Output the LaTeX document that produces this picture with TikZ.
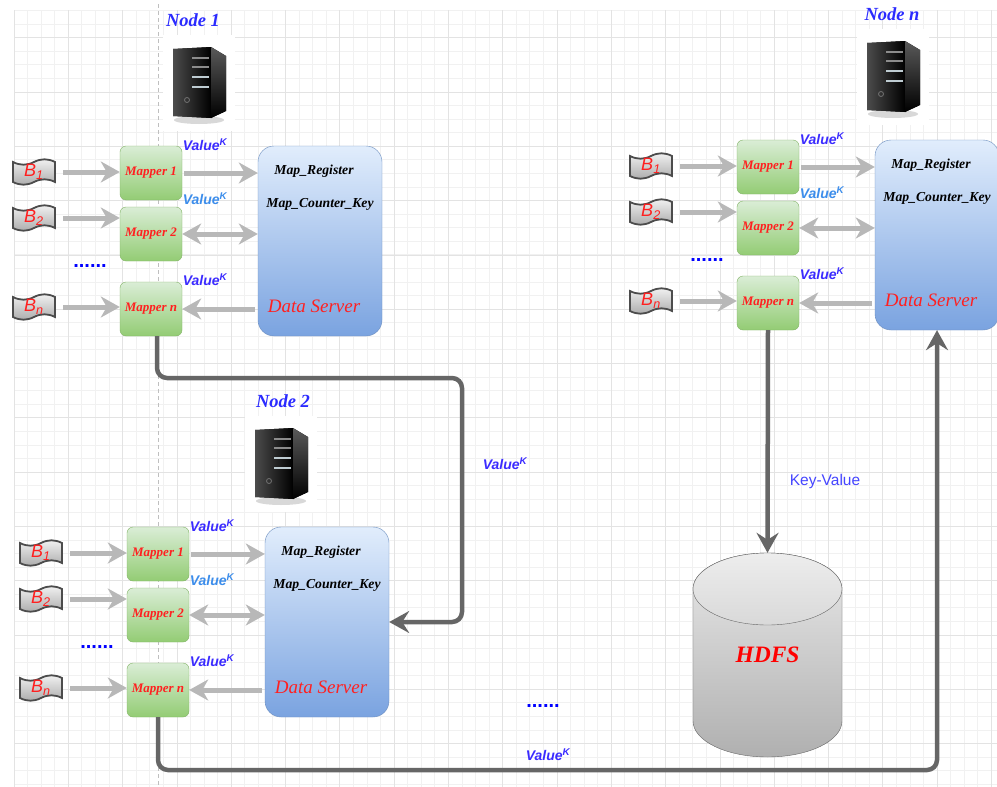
\documentclass[tikz,border=0pt]{standalone}
\usepackage{fontspec}
\setmainfont{Liberation Serif}
\setsansfont{Liberation Sans}
\usepackage{tikz}
\usetikzlibrary{arrows.meta}

\definecolor{gridminor}{HTML}{F1F1F1}
\definecolor{gridmajor}{HTML}{E3E3E3}
\definecolor{mapfill1}{HTML}{DAEDD6}
\definecolor{mapfill2}{HTML}{93CC74}
\definecolor{mapline}{HTML}{82B366}
\definecolor{srvfill1}{HTML}{E1EDFC}
\definecolor{srvfill2}{HTML}{7AA3E0}
\definecolor{srvline}{HTML}{6C8EBF}
\definecolor{feedgray}{HTML}{B8B8B8}
\definecolor{linkgray}{HTML}{666666}
\definecolor{lblblue}{HTML}{2B2BFF}
\definecolor{valblue}{HTML}{3B2BFF}
\definecolor{valsky}{HTML}{3C8DEB}
\definecolor{kvblue}{HTML}{4545FF}
\definecolor{txtred}{HTML}{FF2020}

\tikzset{
	gridline/.style={draw=gridminor, line width=0.8pt},
	gridbold/.style={draw=gridmajor, line width=0.8pt},
	mapper/.style={draw=mapline, rounded corners=6pt, top color=mapfill1, bottom color=mapfill2,
		minimum width=62pt, minimum height=54pt, inner sep=0pt, text=txtred,
		font=\fontsize{13}{15}\selectfont\bfseries\itshape},
	dataserver/.style={draw=srvline, rounded corners=16pt, top color=srvfill1, bottom color=srvfill2,
		minimum width=124pt, minimum height=190pt, inner sep=0pt},
	reglbl/.style={inner sep=0pt, font=\fontsize{13.7}{15}\selectfont\bfseries\itshape},
	srvlbl/.style={inner sep=0pt, text=txtred, font=\fontsize{19}{21}\selectfont\itshape},
	tape/.style={draw=black!70, line width=1.8pt, top color=black!5, bottom color=black!33},
	bflag/.style={minimum width=42pt, minimum height=26pt, inner sep=0pt, text=txtred,
		font=\fontsize{18}{18}\selectfont\sffamily\itshape},
	valk/.style={inner sep=0pt, text=valblue, font=\fontsize{14}{16}\selectfont\sffamily\bfseries\itshape},
	dots/.style={inner sep=0pt, text=blue, font=\fontsize{20}{20}\selectfont\sffamily\bfseries},
	nodelbl/.style={inner sep=0pt, text=lblblue, font=\fontsize{18.5}{20}\selectfont\bfseries\itshape},
	feed/.style={draw=feedgray, line width=5pt, -{Stealth[length=19pt, width=21pt, inset=6pt]}},
	feedboth/.style={draw=feedgray, line width=5pt, {Stealth[length=19pt, width=21pt, inset=6pt]}-{Stealth[length=19pt, width=21pt, inset=6pt]}},
	link/.style={draw=linkgray, line width=4.5pt, rounded corners=10pt, -{Stealth[length=20pt, width=22pt, inset=7pt]}},
}

\begin{document}
\begin{tikzpicture}[x=1pt, y=-1pt]
	\useasboundingbox (0,0) rectangle (997,787);
	\fill[white] (0,0) rectangle (997,787);

	\foreach \i in {0,...,72}
		\draw[gridline] ({14+13.575*\i},10) -- ({14+13.575*\i},787);
	\foreach \j in {0,...,57}
		\draw[gridline] (14,{10.5+13.575*\j}) -- (997,{10.5+13.575*\j});
	\foreach \i in {0,...,18}
		\draw[gridbold] ({14+54.3*\i},10) -- ({14+54.3*\i},787);
	\foreach \j in {0,...,13}
		\draw[gridbold] (14,{37.7+54.3*\j}) -- (997,{37.7+54.3*\j});

	\draw[draw=black!25, line width=0.8pt, dash pattern=on 4pt off 3pt] (158,4) -- (158,787);

	\foreach \g/\mx/\my/\lab/\ix/\lx in {a/151/173/1/199/193, b/158/554/2/281/283, c/768/167/n/893/892} {
		\begin{scope}[shift={({\ix},{\my-90})}]
			\fill[white] (-36,-48) rectangle (36,48);
			\fill[black!30, opacity=0.5] (0,37) ellipse (25 and 4);
			\fill[left color=black!70, right color=black] (-26,-34) -- (12,-36) -- (12,35) -- (-26,33) -- cycle;
			\fill[top color=black!65, bottom color=black] (12,-36) -- (27,-27) -- (27,28) -- (12,35) -- cycle;
			\draw[black!45, line width=1.2pt] (-7,-25) -- (10,-25);
			\draw[black!45, line width=1.2pt] (-7,-16) -- (10,-16);
			\draw[cyan!35!black!30!white, line width=2pt] (-7,-6) -- (10,-6);
			\draw[cyan!35!black!30!white, line width=2pt] (-7,4) -- (10,4);
			\draw[black!55, line width=0.8pt] (-12,17) circle (2.5);
		\end{scope}
		\node[nodelbl] (lbl\g) at ({\lx},{\my-153}) {Node \lab};

		\foreach \k/\mdy/\fdy in {1/0/-1, 2/61/45, n/136/134} {
			\draw[tape] ({\mx-138},{\my+\fdy-10}) .. controls +(7,3.6) and +(-7,3.6) .. ++(21,0)
				.. controls +(7,-3.6) and +(-7,-3.6) .. ++(21,0) -- ++(0,20)
				.. controls +(-7,-3.6) and +(7,-3.6) .. ++(-21,0)
				.. controls +(-7,3.6) and +(7,3.6) .. ++(-21,0) -- cycle;
			\node[bflag] (b\k\g) at ({\mx-117},{\my+\fdy}) {B\textsubscript{\k}};
			\node[mapper] (m\k\g) at ({\mx},{\my+\mdy}) {Mapper \k};
			\draw[feed, shorten <=8pt] (b\k\g.east) -- (b\k\g.east -| m\k\g.west);
		}

		\node[dataserver] (srv\g) at ({\mx+169},{\my+68}) {};
		\node[reglbl] (reg\g) at ([shift={(-6,-70)}]srv\g.center) {Map\_Register};
		\node[reglbl] (key\g) at ([shift={(0,-37)}]srv\g.center) {Map\_Counter\_Key};
		\node[srvlbl] (ds\g) at ([shift={(-6,65)}]srv\g.center) {Data Server};

		\draw[feed, shorten <=2pt] (m1\g.east) -- (m1\g.east -| srv\g.west);
		\draw[feedboth] (m2\g.east) -- (m2\g.east -| srv\g.west);
		\draw[feed, shorten <=3pt] (mn\g.east -| srv\g.west) -- (mn\g.east);

		\node[valk] (v1\g) at ({\mx+54},{\my-28}) {Value\textsuperscript{K}};
		\node[valk, text=valsky] (v2\g) at ({\mx+54},{\my+26}) {Value\textsuperscript{K}};
		\node[valk] (vn\g) at ({\mx+54},{\my+107}) {Value\textsuperscript{K}};
		\node[dots] (dots\g) at ({\mx-61},{\my+93}) {......};
	}

	\draw[draw=black!60, top color=black!9, bottom color=black!31]
		(693,589) -- (693,721) arc[start angle=180, end angle=0, x radius=74.5, y radius=36]
		-- (842,589) arc[start angle=0, end angle=-180, x radius=74.5, y radius=36] -- cycle;
	\draw[draw=black!60, top color=black!7, bottom color=black!15] (767.5,589) ellipse (74.5 and 36);
	\node[minimum width=149pt, minimum height=204pt, inner sep=0pt, text=red,
		font=\fontsize{23.5}{26}\selectfont\bfseries\itshape] (hdfs) at (767.5,655) {HDFS};

	\node[inner sep=0pt, text=kvblue, font=\fontsize{15.5}{17}\selectfont\sffamily] (kv) at (825,481) {Key-Value};
	\node[valk] (vlink1) at (505,464) {Value\textsuperscript{K}};
	\node[valk] (vlink2) at (548,755) {Value\textsuperscript{K}};
	\node[dots] (dotsmid) at (543,706) {......};

	\coordinate (turn1) at (462,378);
	\coordinate (turn2) at (937,770);
	\draw[link] ([xshift=6pt]mna.south) |- (turn1) |- (srvb.east);
	\draw[link] (mnb.south) |- (turn2) -- (srvc.south);
	\draw[link] (mnc.south) -- (hdfs.north);
\end{tikzpicture}
\end{document}
